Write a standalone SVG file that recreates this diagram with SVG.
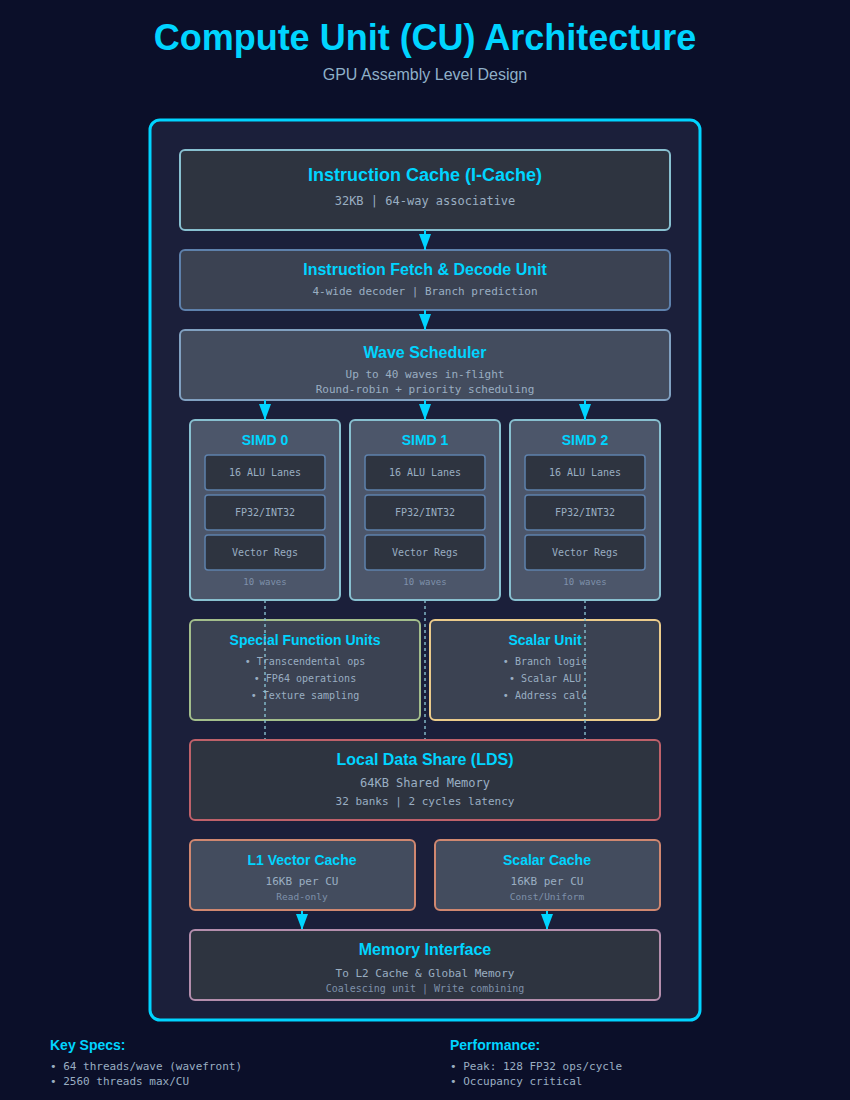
<svg xmlns="http://www.w3.org/2000/svg" width="850" height="1100" viewBox="0 0 850 1100">
  <defs>
    <marker id="arrow" viewBox="0 0 16 12" refX="16" refY="6" markerWidth="16" markerHeight="12" markerUnits="userSpaceOnUse" orient="auto">
      <path d="M0,0 L16,6 L0,12 Z" fill="#00d4ff"/>
    </marker>
    <style>
      .title { font-family: "Liberation Sans", Arial, sans-serif; font-weight: bold; fill: #00d4ff; text-anchor: middle; }
      .mono { font-family: "DejaVu Sans Mono", "Liberation Mono", monospace; fill: #9aaec2; text-anchor: middle; }
      .dim { fill: #7f91aa; }
      .flow { stroke: #00d4ff; stroke-width: 2; fill: none; }
      .lane { stroke: #88c0d0; stroke-width: 2; stroke-dasharray: 3 3; opacity: 0.7; fill: none; }
      .inner { fill: #2e3440; stroke: #5e81ac; stroke-width: 1.5; }
      .simd { fill: #4c566a; stroke: #88c0d0; stroke-width: 2; }
      .foot { font-family: "DejaVu Sans Mono", monospace; font-size: 11px; fill: #9aaec2; }
      .foothead { font-family: "Liberation Sans", Arial, sans-serif; font-weight: bold; font-size: 14px; fill: #00d4ff; }
    </style>
  </defs>

  <rect width="850" height="1100" fill="#0b0f29"/>

  <g id="header">
    <text x="425" y="50" class="title" font-size="36">Compute Unit (CU) Architecture</text>
    <text x="425" y="80" font-family="Liberation Sans, Arial, sans-serif" font-size="16" fill="#8fb0c8" text-anchor="middle">GPU Assembly Level Design</text>
  </g>

  <g id="cu-frame">
    <rect x="150" y="120" width="550" height="900" rx="10" fill="#1b1f3a" stroke="#00d4ff" stroke-width="3"/>
  </g>

  <g id="icache">
    <rect x="180" y="150" width="490" height="80" rx="5" fill="#2e3440" stroke="#88c0d0" stroke-width="2"/>
    <text x="425" y="181" class="title" font-size="18">Instruction Cache (I-Cache)</text>
    <text x="425" y="205" class="mono" font-size="12">32KB | 64-way associative</text>
  </g>

  <g id="fetch-decode">
    <rect x="180" y="250" width="490" height="60" rx="5" fill="#3b4252" stroke="#5e81ac" stroke-width="2"/>
    <text x="425" y="275" class="title" font-size="16">Instruction Fetch &amp; Decode Unit</text>
    <text x="425" y="295" class="mono" font-size="11">4-wide decoder | Branch prediction</text>
  </g>

  <g id="wave-scheduler">
    <rect x="180" y="330" width="490" height="70" rx="5" fill="#434c5e" stroke="#81a1c1" stroke-width="2"/>
    <text x="425" y="358" class="title" font-size="16">Wave Scheduler</text>
    <text x="425" y="378" class="mono" font-size="11">Up to 40 waves in-flight</text>
    <text x="425" y="393" class="mono" font-size="11">Round-robin + priority scheduling</text>
  </g>

  <g id="simd0">
    <rect x="190" y="420" width="150" height="180" rx="5" class="simd"/>
    <text x="265" y="445" class="title" font-size="14">SIMD 0</text>
    <rect x="205" y="455" width="120" height="35" rx="3" class="inner"/>
    <text x="265" y="476" class="mono" font-size="10">16 ALU Lanes</text>
    <rect x="205" y="495" width="120" height="35" rx="3" class="inner"/>
    <text x="265" y="516" class="mono" font-size="10">FP32/INT32</text>
    <rect x="205" y="535" width="120" height="35" rx="3" class="inner"/>
    <text x="265" y="556" class="mono" font-size="10">Vector Regs</text>
    <text x="265" y="585" class="mono dim" font-size="9">10 waves</text>
  </g>

  <g id="simd1">
    <rect x="350" y="420" width="150" height="180" rx="5" class="simd"/>
    <text x="425" y="445" class="title" font-size="14">SIMD 1</text>
    <rect x="365" y="455" width="120" height="35" rx="3" class="inner"/>
    <text x="425" y="476" class="mono" font-size="10">16 ALU Lanes</text>
    <rect x="365" y="495" width="120" height="35" rx="3" class="inner"/>
    <text x="425" y="516" class="mono" font-size="10">FP32/INT32</text>
    <rect x="365" y="535" width="120" height="35" rx="3" class="inner"/>
    <text x="425" y="556" class="mono" font-size="10">Vector Regs</text>
    <text x="425" y="585" class="mono dim" font-size="9">10 waves</text>
  </g>

  <g id="simd2">
    <rect x="510" y="420" width="150" height="180" rx="5" class="simd"/>
    <text x="585" y="445" class="title" font-size="14">SIMD 2</text>
    <rect x="525" y="455" width="120" height="35" rx="3" class="inner"/>
    <text x="585" y="476" class="mono" font-size="10">16 ALU Lanes</text>
    <rect x="525" y="495" width="120" height="35" rx="3" class="inner"/>
    <text x="585" y="516" class="mono" font-size="10">FP32/INT32</text>
    <rect x="525" y="535" width="120" height="35" rx="3" class="inner"/>
    <text x="585" y="556" class="mono" font-size="10">Vector Regs</text>
    <text x="585" y="585" class="mono dim" font-size="9">10 waves</text>
  </g>

  <g id="sfu">
    <rect x="190" y="620" width="230" height="100" rx="5" fill="#3b4252" stroke="#a3be8c" stroke-width="2"/>
    <text x="305" y="645" class="title" font-size="14">Special Function Units</text>
    <text x="305" y="665" class="mono" font-size="10">• Transcendental ops</text>
    <text x="305" y="682" class="mono" font-size="10">• FP64 operations</text>
    <text x="305" y="699" class="mono" font-size="10">• Texture sampling</text>
  </g>

  <g id="scalar-unit">
    <rect x="430" y="620" width="230" height="100" rx="5" fill="#3b4252" stroke="#ebcb8b" stroke-width="2"/>
    <text x="545" y="645" class="title" font-size="14">Scalar Unit</text>
    <text x="545" y="665" class="mono" font-size="10">• Branch logic</text>
    <text x="545" y="682" class="mono" font-size="10">• Scalar ALU</text>
    <text x="545" y="699" class="mono" font-size="10">• Address calc</text>
  </g>

  <g id="connectors">
    <line x1="425" y1="230" x2="425" y2="250" class="flow" marker-end="url(#arrow)"/>
    <line x1="425" y1="310" x2="425" y2="330" class="flow" marker-end="url(#arrow)"/>
    <line x1="265" y1="400" x2="265" y2="420" class="flow" marker-end="url(#arrow)"/>
    <line x1="425" y1="400" x2="425" y2="420" class="flow" marker-end="url(#arrow)"/>
    <line x1="585" y1="400" x2="585" y2="420" class="flow" marker-end="url(#arrow)"/>
    <line x1="265" y1="600" x2="265" y2="740" class="lane"/>
    <line x1="425" y1="600" x2="425" y2="740" class="lane"/>
    <line x1="585" y1="600" x2="585" y2="740" class="lane"/>
    <line x1="302" y1="910" x2="302" y2="930" class="flow" marker-end="url(#arrow)"/>
    <line x1="547" y1="910" x2="547" y2="930" class="flow" marker-end="url(#arrow)"/>
  </g>

  <g id="lds">
    <rect x="190" y="740" width="470" height="80" rx="5" fill="#2e3440" stroke="#bf616a" stroke-width="2"/>
    <text x="425" y="765" class="title" font-size="16">Local Data Share (LDS)</text>
    <text x="425" y="787" class="mono" font-size="12">64KB Shared Memory</text>
    <text x="425" y="805" class="mono" font-size="11">32 banks | 2 cycles latency</text>
  </g>

  <g id="l1-vector-cache">
    <rect x="190" y="840" width="225" height="70" rx="5" fill="#434c5e" stroke="#d08770" stroke-width="2"/>
    <text x="302" y="865" class="title" font-size="14">L1 Vector Cache</text>
    <text x="302" y="885" class="mono" font-size="11">16KB per CU</text>
    <text x="302" y="900" class="mono dim" font-size="9.5">Read-only</text>
  </g>

  <g id="scalar-cache">
    <rect x="435" y="840" width="225" height="70" rx="5" fill="#434c5e" stroke="#d08770" stroke-width="2"/>
    <text x="547" y="865" class="title" font-size="14">Scalar Cache</text>
    <text x="547" y="885" class="mono" font-size="11">16KB per CU</text>
    <text x="547" y="900" class="mono dim" font-size="9.5">Const/Uniform</text>
  </g>

  <g id="memory-interface">
    <rect x="190" y="930" width="470" height="70" rx="5" fill="#2e3440" stroke="#b48ead" stroke-width="2"/>
    <text x="425" y="955" class="title" font-size="16">Memory Interface</text>
    <text x="425" y="977" class="mono" font-size="11">To L2 Cache &amp; Global Memory</text>
    <text x="425" y="992" class="mono dim" font-size="10">Coalescing unit | Write combining</text>
  </g>

  <g id="key-specs">
    <text x="50" y="1050" class="foothead">Key Specs:</text>
    <text x="50" y="1070" class="foot">• 64 threads/wave (wavefront)</text>
    <text x="50" y="1085" class="foot">• 2560 threads max/CU</text>
  </g>

  <g id="performance">
    <text x="450" y="1050" class="foothead">Performance:</text>
    <text x="450" y="1070" class="foot">• Peak: 128 FP32 ops/cycle</text>
    <text x="450" y="1085" class="foot">• Occupancy critical</text>
  </g>
</svg>
